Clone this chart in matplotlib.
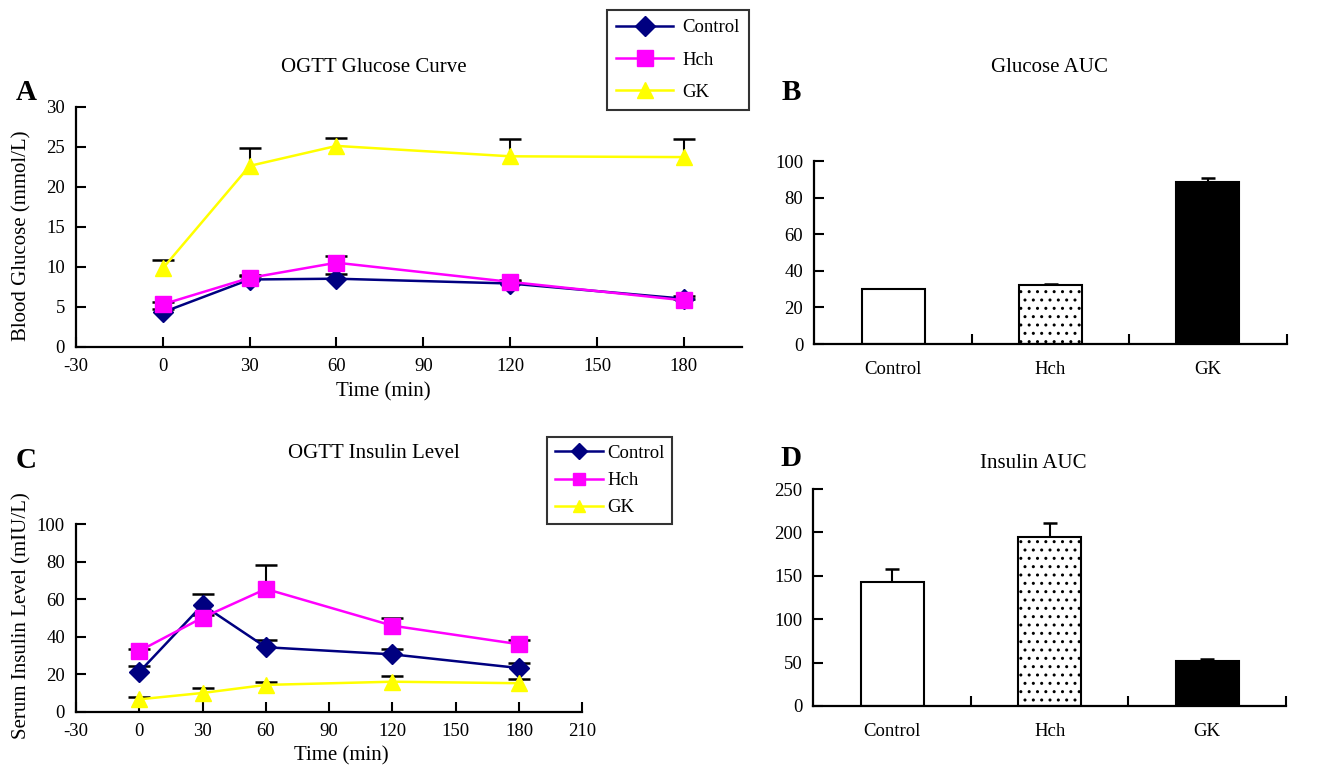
import matplotlib
matplotlib.use("Agg")
import matplotlib.pyplot as plt
import numpy as np

plt.rcParams['font.family'] = ['Liberation Serif', 'DejaVu Serif']
plt.rcParams['hatch.linewidth'] = 1.0
plt.rcParams['axes.unicode_minus'] = False

# ---------------- data ----------------
time_min = [0, 30, 60, 120, 180]
groups = ["Control", "Hch", "GK"]

glu_control = [4.3, 8.4, 8.5, 7.9, 6.0]
glu_control_err = [0.4, 0.5, 0.6, 0.3, 0.3]
glu_hch = [5.3, 8.6, 10.5, 8.1, 5.8]
glu_hch_err = [0.3, 0.4, 0.9, 0.2, 0.2]
glu_gk = [9.8, 22.6, 25.1, 23.8, 23.7]
glu_gk_err = [1.0, 2.3, 1.0, 2.2, 2.3]

ins_control = [21.2, 57.0, 34.4, 30.6, 23.3]
ins_control_err = [3.2, 6.0, 3.9, 3.0, 2.9]
ins_hch = [32.4, 50.2, 65.5, 45.9, 36.0]
ins_hch_err = [1.0, 1.5, 13.0, 4.0, 2.3]
ins_gk = [6.6, 10.0, 14.3, 16.0, 15.2]
ins_gk_err = [1.0, 2.5, 1.7, 3.0, 2.1]

glu_auc = [30.0, 32.2, 88.7]
glu_auc_err = [0.2, 0.6, 1.8]
ins_auc = [142.9, 194.3, 52.2]
ins_auc_err = [14.6, 17.0, 2.3]

colors = {"Control": "#000080", "Hch": "#FF00FF", "GK": "#FFFF00"}
markers = {"Control": "D", "Hch": "s", "GK": "^"}

W, H = 1330, 768
fig = plt.figure(figsize=(W / 100, H / 100), dpi=100)


def px_axes(left, top, right, bottom):
    return fig.add_axes([left / W, 1 - bottom / H, (right - left) / W, (bottom - top) / H])


def style_axes(ax):
    for s in ["top", "right"]:
        ax.spines[s].set_visible(False)
    for s in ["left", "bottom"]:
        ax.spines[s].set_linewidth(1.6)
    ax.tick_params(direction="in", length=7, width=1.5, labelsize=13.5, pad=8)


def upper_errorbar(ax, x, vals, errs, cap, zorder):
    _, caps, _ = ax.errorbar(x, vals, yerr=[np.zeros(len(errs)), errs], fmt="none",
                             ecolor="black", elinewidth=1.5, capsize=cap, capthick=1.8,
                             zorder=zorder)
    if len(caps) == 2:
        caps[0].set_visible(False)


def line_panel(ax, series, msize, cap):
    for name, vals, errs in series:
        upper_errorbar(ax, time_min, vals, errs, cap, 2)
    handles = []
    for name, vals, errs in series:
        h, = ax.plot(time_min, vals, color=colors[name], marker=markers[name],
                     markersize=msize if markers[name] != "D" else msize * 0.85,
                     markeredgecolor=colors[name], linewidth=1.8, label=name, zorder=3)
        handles.append(h)
    return handles


# ---------------- Panel A ----------------
axA = px_axes(76, 106.7, 741.7, 346.7)
style_axes(axA)
hA = line_panel(axA, [("Control", glu_control, glu_control_err),
                      ("Hch", glu_hch, glu_hch_err),
                      ("GK", glu_gk, glu_gk_err)], 12, 8)
axA.set_xlim(-30, 200)
axA.set_ylim(0, 30)
axA.set_xticks([-30, 0, 30, 60, 90, 120, 150, 180])
axA.set_yticks([0, 5, 10, 15, 20, 25, 30])

legA = fig.legend(handles=hA, loc="upper left", bbox_to_anchor=(607 / W, 1 - 10 / H),
                  bbox_transform=fig.transFigure, frameon=True, fancybox=False,
                  fontsize=13.5, handlelength=3.0, handletextpad=0.5, labelspacing=0.8,
                  borderpad=0.5, borderaxespad=0, markerscale=0.95)
legA.get_frame().set_edgecolor("black")
legA.get_frame().set_linewidth(1.5)

# ---------------- Panel C ----------------
axC = px_axes(76, 524.3, 582.3, 711.7)
style_axes(axC)
hC = line_panel(axC, [("Control", ins_control, ins_control_err),
                      ("Hch", ins_hch, ins_hch_err),
                      ("GK", ins_gk, ins_gk_err)], 12, 8)
axC.set_xlim(-30, 210)
axC.set_ylim(0, 100)
axC.set_xticks([-30, 0, 30, 60, 90, 120, 150, 180, 210])
axC.set_yticks([0, 20, 40, 60, 80, 100])

legC = fig.legend(handles=hC, loc="upper left", bbox_to_anchor=(547 / W, 1 - 437 / H),
                  bbox_transform=fig.transFigure, frameon=True, fancybox=False,
                  fontsize=13.5, handlelength=2.6, handletextpad=0.2, labelspacing=0.55,
                  borderpad=0.4, borderaxespad=0, markerscale=0.75)
legC.get_frame().set_edgecolor("black")
legC.get_frame().set_linewidth(1.5)


# ---------------- Bar panels ----------------
def bar_panel(ax, vals, errs, ylim, yticks):
    style_axes(ax)
    x = np.arange(len(groups))
    faces = ["white", "white", "black"]
    hatches = [None, "..", None]
    for i in range(len(groups)):
        ax.bar(x[i], vals[i], width=0.4, color=faces[i], edgecolor="black",
               linewidth=1.5, hatch=hatches[i], zorder=2)
    upper_errorbar(ax, x, vals, errs, 5, 1)
    ax.set_xlim(-0.5, 2.5)
    ax.set_ylim(*ylim)
    ax.set_yticks(yticks)
    ax.set_xticks([0.5, 1.5, 2.5])
    ax.set_xticklabels([])
    ax.set_xticks(x, minor=True)
    ax.set_xticklabels(groups, minor=True)
    ax.tick_params(axis="x", which="minor", length=0, labelsize=13.5, pad=12)


axB = px_axes(814.3, 161, 1286.7, 344)
bar_panel(axB, glu_auc, glu_auc_err, (0, 100), [0, 20, 40, 60, 80, 100])

axD = px_axes(813.3, 489, 1286, 706)
bar_panel(axD, ins_auc, ins_auc_err, (0, 250), [0, 50, 100, 150, 200, 250])

# ---------------- texts ----------------
def ftext(x, y, s, **kw):
    fig.text(x / W, 1 - y / H, s, ha="center", va="center", **kw)

ftext(374, 68, "OGTT Glucose Curve", fontsize=15)
ftext(1049, 68, "Glucose AUC", fontsize=15)
ftext(374, 453, "OGTT Insulin Level", fontsize=15)
ftext(1033, 463, "Insulin AUC", fontsize=15)

ftext(383, 392, "Time (min)", fontsize=15)
ftext(341, 756, "Time (min)", fontsize=15)
ftext(22, 236, "Blood Glucose (mmol/L)", fontsize=15, rotation=90)
ftext(22, 616, "Serum Insulin Level (mIU/L)", fontsize=15, rotation=90)

ftext(26, 92, "A", fontsize=21, fontweight="bold")
ftext(791, 92, "B", fontsize=21, fontweight="bold")
ftext(26, 460, "C", fontsize=21, fontweight="bold")
ftext(791, 458, "D", fontsize=21, fontweight="bold")

fig.savefig("out.png", dpi=100)
